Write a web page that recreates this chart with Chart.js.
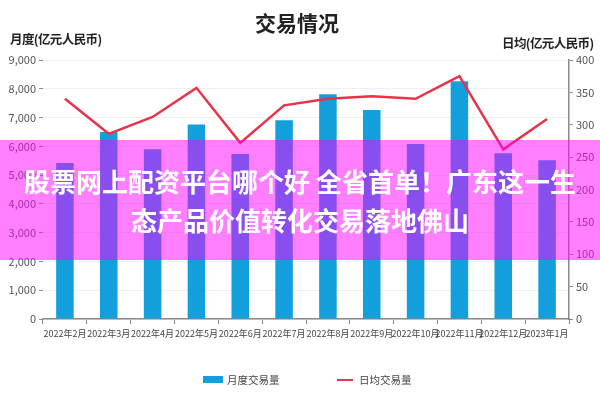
<!DOCTYPE html>
<html><head><meta charset="utf-8">
<script src="https://cdn.jsdelivr.net/npm/chart.js@4"></script>
<style>
html,body{margin:0;padding:0;background:#fff;}
#wrap{position:relative;width:600px;height:400px;font-family:"Noto Sans CJK SC","Noto Sans",sans-serif;}
canvas{position:absolute;left:0;top:0;}
.t{position:absolute;white-space:nowrap;color:#222;}
#title{left:0;width:594px;top:7px;text-align:center;font-size:21px;font-weight:bold;}
#yl{left:10px;top:29px;font-size:12.5px;font-weight:bold;letter-spacing:-0.6px;}
#yr{left:502px;top:33px;font-size:12.5px;font-weight:bold;letter-spacing:-0.6px;}
.leg{position:absolute;top:372px;font-size:10.5px;color:#444;display:flex;align-items:center;}
.box{display:inline-block;width:20px;height:7px;background:#139fdc;margin-right:4px;}
.ln{display:inline-block;width:16px;height:2px;background:#e8334a;margin-right:6px;}
#ad{position:absolute;left:0;top:140px;width:600px;height:120px;background:rgba(255,0,255,0.5);color:#fff;font-weight:bold;font-size:26px;text-align:center;line-height:39px;padding-top:21px;box-sizing:border-box;}
</style></head>
<body><div id="wrap">
<canvas id="c" width="600" height="400"></canvas>
<div class="t" id="title">交易情况</div>
<div class="t" id="yl">月度(亿元人民币)</div>
<div class="t" id="yr">日均(亿元人民币)</div>
<div class="leg" style="left:203px"><span class="box"></span>月度交易量</div>
<div class="leg" style="left:337px"><span class="ln"></span>日均交易量</div>
<div id="ad">股票网上配资平台哪个好 全省首单！广东这一生<br>态产品价值转化交易落地佛山</div>
</div>
<script>
const categories = ["2022年2月","2022年3月","2022年4月","2022年5月","2022年6月","2022年7月","2022年8月","2022年9月","2022年10月","2022年11月","2022年12月","2023年1月"];
const monthlyVolume = [5420,6500,5900,6760,5730,6910,7810,7260,6080,8260,5760,5520];
const dailyVolume = [340,286,312,357,272,330,340,344,340,375,262,309];
const seriesNames = ["月度交易量","日均交易量"];
const tickFont = '"Liberation Sans Narrow","Noto Sans CJK SC"';

new Chart(document.getElementById('c'), {
  data: {
    labels: categories,
    datasets: [
      {type:'line', label:seriesNames[1], data:dailyVolume, yAxisID:'y1', borderColor:'#e8334a', borderWidth:2.5, pointRadius:0, tension:0, order:0},
      {type:'bar', label:seriesNames[0], data:monthlyVolume, yAxisID:'y', backgroundColor:'#139fdc', barPercentage:0.4, categoryPercentage:1, order:1}
    ]
  },
  options: {
    responsive:false, animation:false,
    layout:{padding:{top:60,left:0,right:0,bottom:0}},
    plugins:{legend:{display:false}, title:{display:false}, tooltip:{enabled:false}},
    scales:{
      x:{
        offset:true,
        grid:{drawOnChartArea:false, offset:true, tickLength:5, color:'#8a8a8a'},
        border:{color:'#8a8a8a', width:1.5},
        ticks:{maxRotation:0, minRotation:0, autoSkip:false, color:'#444', padding:4, font:{family:tickFont, size:9}},
        afterFit(s){ s.height = 81; }
      },
      y:{
        position:'left', min:0, max:9000,
        ticks:{stepSize:1000, color:'#555', padding:3, font:{family:tickFont, size:11}, callback:v=>v.toLocaleString('en-US')},
        grid:{color:'#f0f0f0', tickLength:4, tickColor:'#8a8a8a'},
        border:{display:false},
        afterFit(s){ s.width = 43; }
      },
      y1:{
        position:'right', min:0, max:400,
        ticks:{stepSize:50, color:'#555', padding:3, font:{family:tickFont, size:11}},
        grid:{drawOnChartArea:false, tickLength:4, color:'#8a8a8a'},
        border:{color:'#8a8a8a', width:1.5},
        afterFit(s){ s.width = 31; }
      }
    }
  }
});
</script>
</body></html>
